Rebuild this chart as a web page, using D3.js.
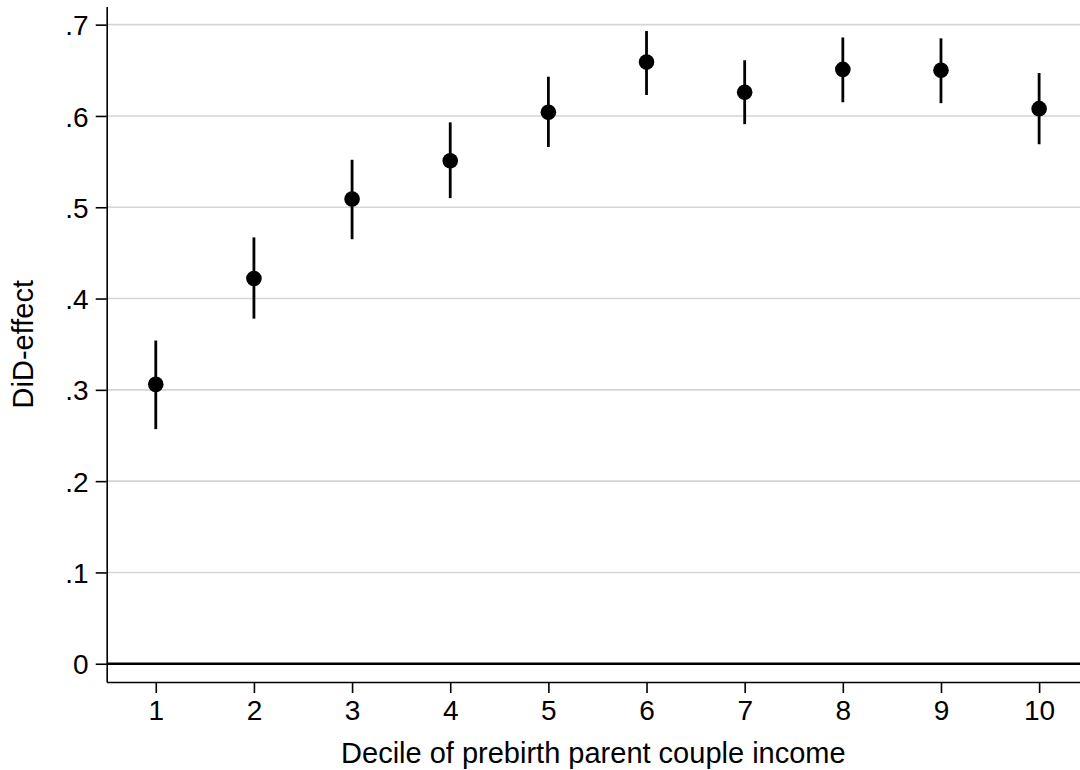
<!DOCTYPE html>
<html>
<head>
<meta charset="utf-8">
<script src="https://cdn.jsdelivr.net/npm/d3@7"></script>
<style>
    html, body { margin: 0; padding: 0; background: #fff; }
    svg { display: block; font-family: "Liberation Sans", Arial, sans-serif; }
</style>
</head>
<body>
<div id="chart"></div>
<script>
(function () {
    'use strict';

    var deciles = [1, 2, 3, 4, 5, 6, 7, 8, 9, 10];
    var effect = [0.306, 0.422, 0.509, 0.551, 0.604, 0.659, 0.626, 0.651, 0.650, 0.608];
    var ciLow = [0.257, 0.378, 0.465, 0.510, 0.566, 0.623, 0.591, 0.615, 0.614, 0.569];
    var ciHigh = [0.354, 0.467, 0.552, 0.593, 0.643, 0.693, 0.661, 0.686, 0.685, 0.647];
    var yTicks = [0, 0.1, 0.2, 0.3, 0.4, 0.5, 0.6, 0.7];

    var width = 1080,
        height = 770,
        left = 106.7,
        top = 6.4,
        bottom = 682;

    var svg = d3.select("#chart").append("svg")
        .attr("width", width)
        .attr("height", height);

    var x = d3.scaleLinear()
        .domain([0.5, 10.5])
        .range([left, left + 10 * 98.15]);

    var y = d3.scaleLinear()
        .domain([-0.02, 0.72])
        .range([bottom, top]);

    // grid lines
    svg.append("g")
        .selectAll("line")
        .data(yTicks.filter(function (d) { return d !== 0; }))
        .enter().append("line")
        .attr("x1", left)
        .attr("x2", width)
        .attr("y1", function (d) { return y(d); })
        .attr("y2", function (d) { return y(d); })
        .style("stroke", "#d5d5d5")
        .style("stroke-width", 1.6);

    // zero reference line
    svg.append("line")
        .attr("x1", left)
        .attr("x2", width)
        .attr("y1", y(0))
        .attr("y2", y(0))
        .style("stroke", "#000")
        .style("stroke-width", 2.6);

    var fmt = function (d) { return d === 0 ? "0" : d3.format(".1f")(d).replace(/^0/, ""); };

    var yAxis = svg.append("g")
        .attr("transform", "translate(" + left + ",0)")
        .call(d3.axisLeft(y).tickValues(yTicks).tickFormat(fmt).tickSize(11).tickSizeOuter(0).tickPadding(7));

    var xAxis = svg.append("g")
        .attr("transform", "translate(0," + bottom + ")")
        .call(d3.axisBottom(x).tickValues(deciles).tickFormat(d3.format("d")).tickSize(11).tickSizeOuter(0).tickPadding(7));

    [yAxis, xAxis].forEach(function (g) {
        g.select(".domain").style("stroke", "#000").style("stroke-width", 1.6);
        g.selectAll(".tick line").style("stroke", "#000").style("stroke-width", 1.6);
        g.selectAll(".tick text")
            .style("font-family", '"Liberation Sans", Arial, sans-serif')
            .style("font-size", "28px")
            .style("fill", "#000");
    });
    xAxis.selectAll(".tick text").attr("dy", null).attr("y", 38);
    yAxis.selectAll(".tick text").attr("dy", "0.36em");

    // error bars
    svg.append("g")
        .selectAll("line")
        .data(deciles)
        .enter().append("line")
        .attr("x1", function (d) { return x(d); })
        .attr("x2", function (d) { return x(d); })
        .attr("y1", function (d, i) { return y(ciLow[i]); })
        .attr("y2", function (d, i) { return y(ciHigh[i]); })
        .style("stroke", "#000")
        .style("stroke-width", 2.8);

    // point estimates
    svg.append("g")
        .selectAll("circle")
        .data(deciles)
        .enter().append("circle")
        .attr("cx", function (d) { return x(d); })
        .attr("cy", function (d, i) { return y(effect[i]); })
        .attr("r", 7.8)
        .style("fill", "#000");

    svg.append("text")
        .attr("x", (left + width) / 2)
        .attr("y", 762.5)
        .attr("text-anchor", "middle")
        .style("font-size", "29px")
        .text("Decile of prebirth parent couple income");

    svg.append("text")
        .attr("transform", "translate(33.3," + (top + bottom) / 2 + ") rotate(-90)")
        .attr("text-anchor", "middle")
        .style("font-size", "29px")
        .text("DiD-effect");
})();
</script>
</body>
</html>
